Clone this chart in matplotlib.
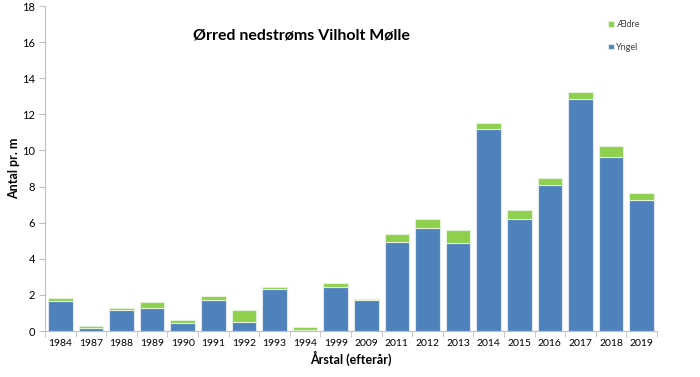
import matplotlib
matplotlib.use("Agg")
import matplotlib.pyplot as plt
import numpy as np

years = ["1984", "1987", "1988", "1989", "1990", "1991", "1992", "1993", "1994", "1999",
         "2009", "2011", "2012", "2013", "2014", "2015", "2016", "2017", "2018", "2019"]
yngel = [1.65, 0.15, 1.15, 1.3, 0.45, 1.7, 0.5, 2.3, 0.05, 2.45,
         1.7, 4.95, 5.7, 4.85, 11.18, 6.18, 8.08, 12.85, 9.63, 7.25]
total = [1.85, 0.3, 1.3, 1.6, 0.6, 1.95, 1.15, 2.45, 0.2, 2.65,
         1.78, 5.37, 6.18, 5.59, 11.5, 6.7, 8.49, 13.25, 10.26, 7.66]
aeldre = [t - y for t, y in zip(total, yngel)]

blue = "#4F81BD"
green = "#8ED04E"

plt.rcParams['font.family'] = ['Lato', 'DejaVu Sans']

fig = plt.figure(figsize=(7, 3.77), dpi=100)
ax = fig.add_axes([45/700, 1 - 331/377, (657 - 45)/700, (331 - 6)/377])

x = np.arange(len(years))
w = 0.8
ax.bar(x, yngel, width=w, color=blue, edgecolor="#dfe8f3", linewidth=0.8, label="Yngel")
ax.bar(x, aeldre, width=w, bottom=yngel, color=green, edgecolor="#e4f3d6", linewidth=0.8, label="Ældre")

ax.set_ylim(0, 18)
ax.set_xlim(-0.5, len(years) - 0.5)
ax.set_yticks(np.arange(0, 19, 2))
ax.set_xticks(x)
ax.set_xticklabels(years, fontsize=7.5)
ax.tick_params(axis='x', length=0, pad=6)
ax.set_xticks(np.arange(-0.5, len(years), 1), minor=True)
ax.tick_params(axis='x', which='minor', length=4, color="#bfbfbf")
ax.tick_params(axis='y', labelsize=8, length=4, color="#bfbfbf", pad=3)

for s in ["top", "right"]:
    ax.spines[s].set_visible(False)
ax.spines["left"].set_color("#bfbfbf")
ax.spines["bottom"].set_color("#bfbfbf")

ax.set_ylabel("Antal pr. m", fontsize=9, fontweight="bold")
ax.yaxis.set_label_coords(-0.050, 0.5)
ax.set_xlabel("Årstal (efterår)", fontsize=9, fontweight="bold")
ax.xaxis.set_label_coords(0.5, -0.083)
ax.xaxis.label.set_va("center")
ax.yaxis.label.set_va("center")

fig.text(301/700, 1 - 35/377, "Ørred nedstrøms Vilholt Mølle", fontsize=11.5, fontweight="bold",
         ha="center", va="center")

# legend
handles, labels = ax.get_legend_handles_labels()
leg = fig.legend(handles[::-1], labels[::-1], loc="upper left", bbox_to_anchor=(600/700, 1 - 12/377),
                 frameon=False, fontsize=6.5, handlelength=0.6, handleheight=0.6, labelspacing=1.5,
                 handletextpad=0.3, labelcolor="#404040")

fig.savefig("out.png", dpi=100)
